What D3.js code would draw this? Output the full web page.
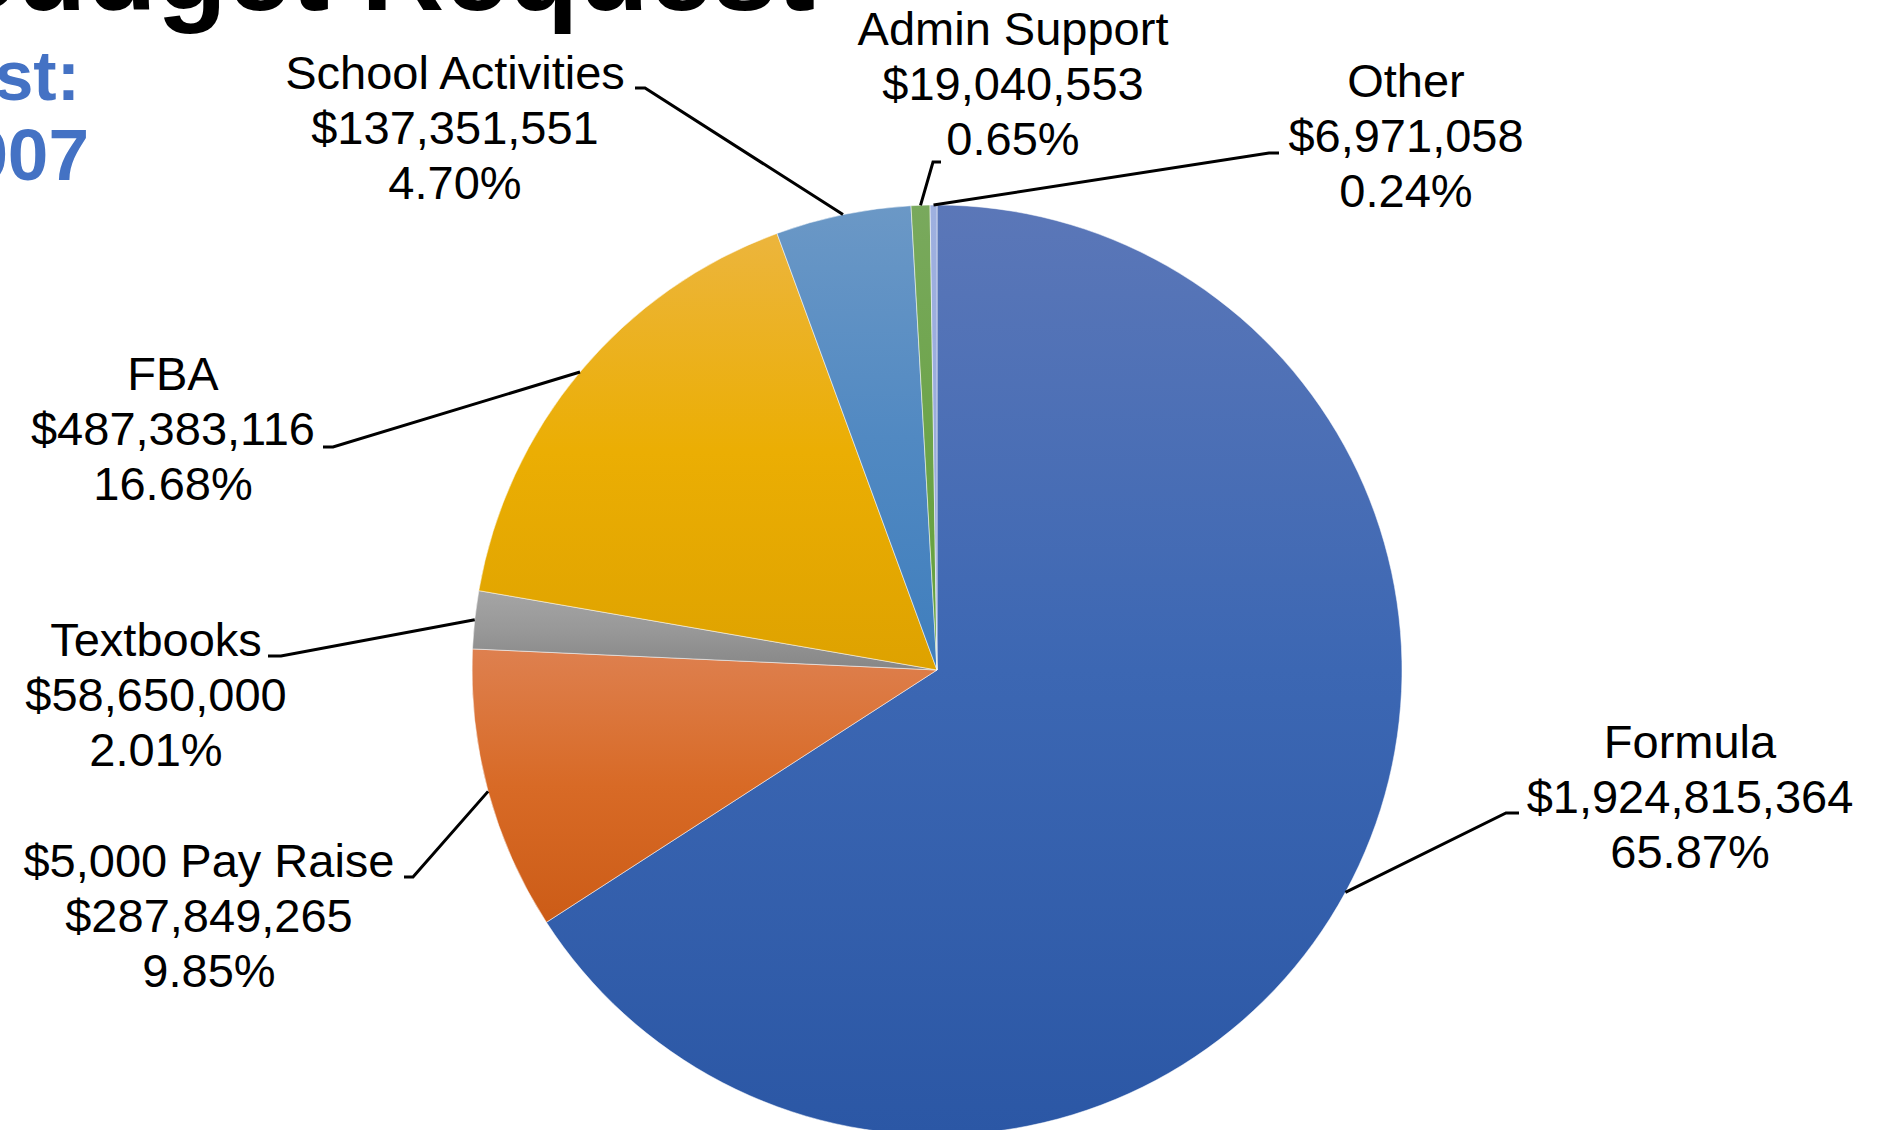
<!DOCTYPE html>
<html>
<head>
<meta charset="utf-8">
<script src="https://d3js.org/d3.v7.min.js"></script>
<style>
  body { margin: 0; background: #fff; }
  text { font-family: "Liberation Sans", Arial, sans-serif; }
</style>
</head>
<body>
<div id="chart"></div>
<script>
// data
var categories = ["Formula", "$5,000 Pay Raise", "Textbooks", "FBA", "School Activities", "Admin Support", "Other"];
var amounts = [1924815364, 287849265, 58650000, 487383116, 137351551, 19040553, 6971058];
var headerLines = ["Budget Request", "Total Request:", "$2,922,060,907"];

// colours (top / middle / bottom of each slice gradient)
var sliceColors = [
  ["#5b77b8", "#3c67b3", "#2b57a5"],
  ["#de804f", "#d86a26", "#cc5c17"],
  ["#a5a5a5", "#989898", "#868686"],
  ["#ecb53d", "#ebae03", "#dea200"],
  ["#6b98c6", "#5189c2", "#3f7ebd"],
  ["#79a95d", "#6da44a", "#63a039"],
  ["#9eb0df", "#9aacdd", "#96a8db"]
];

// label layout: centre x, first baseline, elbow point, tail end x
var labelLayout = [
  {cx: 1690, y: 758, ex: 1506, ey: 813, tx: 1519},
  {cx: 209,  y: 877, ex: 413,  ey: 877, tx: 404},
  {cx: 156,  y: 656, ex: 281,  ey: 656, tx: 268},
  {cx: 173,  y: 390, ex: 333,  ey: 447, tx: 323},
  {cx: 455,  y: 89,  ex: 645,  ey: 88,  tx: 635},
  {cx: 1013, y: 45,  ex: 933,  ey: 162, tx: 941},
  {cx: 1406, y: 97,  ex: 1269, ey: 153, tx: 1279}
];

var width = 1883, height = 1130;
var cx = 937, cy = 670, radius = 465;
var lineH = 55;

var svg = d3.select("#chart").append("svg")
    .attr("width", width)
    .attr("height", height);

var defs = svg.append("defs");
sliceColors.forEach(function(c, i) {
  var g = defs.append("linearGradient")
      .attr("id", "grad" + i)
      .attr("x1", 0).attr("y1", 0).attr("x2", 0).attr("y2", 1);
  g.append("stop").attr("offset", "0%").attr("stop-color", c[0]);
  g.append("stop").attr("offset", "50%").attr("stop-color", c[1]);
  g.append("stop").attr("offset", "100%").attr("stop-color", c[2]);
});

// slide text behind the chart
svg.append("text")
    .attr("x", 815).attr("y", 10)
    .attr("text-anchor", "end")
    .style("font-size", "115px").style("font-weight", "bold")
    .attr("fill", "#000")
    .text(headerLines[0]);
svg.append("text")
    .attr("x", 80).attr("y", 100)
    .attr("text-anchor", "end")
    .style("font-size", "70px").style("font-weight", "bold")
    .attr("fill", "#4472c4")
    .text(headerLines[1]);
svg.append("text")
    .attr("x", 89).attr("y", 180)
    .attr("text-anchor", "end")
    .style("font-size", "73px").style("font-weight", "bold")
    .attr("fill", "#4472c4")
    .text(headerLines[2]);

var data = categories.map(function(c, i) { return {name: c, value: amounts[i], i: i}; });
var total = d3.sum(amounts);

var pie = d3.pie().sort(null).value(function(d) { return d.value; });
var arc = d3.arc().innerRadius(0).outerRadius(radius);
var arcs = pie(data);

var g = svg.append("g").attr("transform", "translate(" + cx + "," + cy + ")");

g.selectAll("path.slice")
  .data(arcs)
  .enter()
  .append("path")
    .attr("class", "slice")
    .attr("d", arc)
    .attr("fill", function(d) { return "url(#grad" + d.data.i + ")"; })
    .attr("stroke", "#ffffff")
    .attr("stroke-opacity", 0.5)
    .attr("stroke-width", 1);

var money = d3.format("$,");
var pct = d3.format(".2%");

// leader lines
svg.selectAll("polyline.leader")
  .data(arcs)
  .enter()
  .append("polyline")
    .attr("class", "leader")
    .attr("fill", "none")
    .attr("stroke", "#000")
    .attr("stroke-width", 3)
    .attr("points", function(d) {
      var a = (d.startAngle + d.endAngle) / 2;
      var L = labelLayout[d.data.i];
      var sx = cx + radius * Math.sin(a), sy = cy - radius * Math.cos(a);
      return [[sx, sy], [L.ex, L.ey], [L.tx, L.ey]].join(" ");
    });

// labels
var labels = svg.selectAll("text.lbl")
  .data(arcs)
  .enter()
  .append("text")
    .attr("class", "lbl")
    .attr("text-anchor", "middle")
    .style("font-size", "47px")
    .attr("fill", "#000");

labels.each(function(d) {
  var L = labelLayout[d.data.i];
  var lines = [d.data.name, money(d.data.value), pct(d.data.value / total)];
  d3.select(this).selectAll("tspan")
    .data(lines)
    .enter()
    .append("tspan")
      .attr("x", L.cx)
      .attr("y", function(t, k) { return L.y + k * lineH; })
      .text(function(t) { return t; });
});
</script>
</body>
</html>
